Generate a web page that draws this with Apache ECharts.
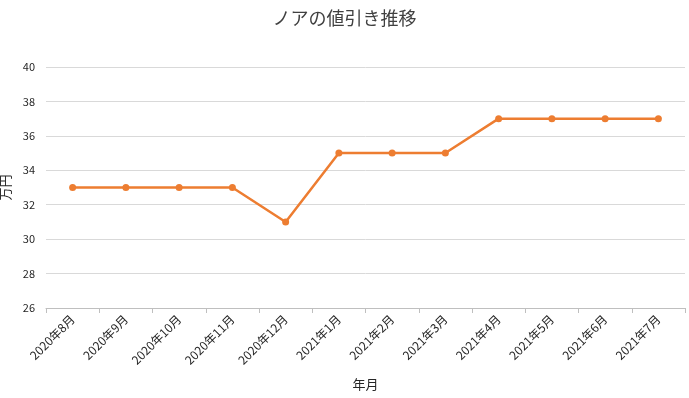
<!DOCTYPE html>
<html><head><meta charset="utf-8">
<script src="https://cdn.jsdelivr.net/npm/echarts@6/dist/echarts.min.js"></script>
<style>html,body{margin:0;padding:0;background:#fff}#c{width:689px;height:398px}</style>
</head><body><div id="c"></div>
<script>
const categories = ['2020年8月','2020年9月','2020年10月','2020年11月','2020年12月','2021年1月','2021年2月','2021年3月','2021年4月','2021年5月','2021年6月','2021年7月'];
const values = [33,33,33,33,31,35,35,35,37,37,37,37];
const yMin = 26, yMax = 40, yStep = 2;
const titleText = 'ノアの値引き推移';
const xName = '年月';
const yName = '万円';

const font = '"Noto Sans CJK JP", "Noto Sans", sans-serif';
const chart = echarts.init(document.getElementById('c'));
chart.setOption({
  animation: false,
  title: { text: titleText, left: 'center', top: 4,
    textStyle: { fontFamily: font, fontSize: 18, fontWeight: 'normal', color: '#404040' } },
  grid: { left: 46, right: 4, top: 67, bottom: 90, containLabel: false, outerBoundsMode: 'none' },
  xAxis: {
    type: 'category', data: categories, boundaryGap: true,
    name: xName, nameLocation: 'middle', nameGap: 70,
    nameTextStyle: { fontFamily: font, fontSize: 13, color: '#262626' },
    axisLine: { lineStyle: { color: '#bfbfbf', width: 1 } },
    axisTick: { show: true, alignWithLabel: false, length: 5, lineStyle: { color: '#bfbfbf' } },
    axisLabel: { rotate: 45, fontFamily: font, fontSize: 12, color: '#262626', margin: 9, interval: 0 }
  },
  yAxis: {
    type: 'value', min: yMin, max: yMax, interval: yStep,
    name: yName, nameLocation: 'middle', nameGap: 29, nameRotate: 90,
    nameTextStyle: { fontFamily: font, fontSize: 13, color: '#262626' },
    axisLine: { show: false }, axisTick: { show: false },
    splitLine: { lineStyle: { color: '#d9d9d9', width: 1 } },
    axisLabel: { fontFamily: font, fontSize: 11, color: '#262626', margin: 11 }
  },
  series: [{
    type: 'line', data: values,
    symbol: 'circle', symbolSize: 7,
    lineStyle: { color: '#ED7D31', width: 2.5 },
    itemStyle: { color: '#ED7D31' }
  }]
});
</script></body></html>
